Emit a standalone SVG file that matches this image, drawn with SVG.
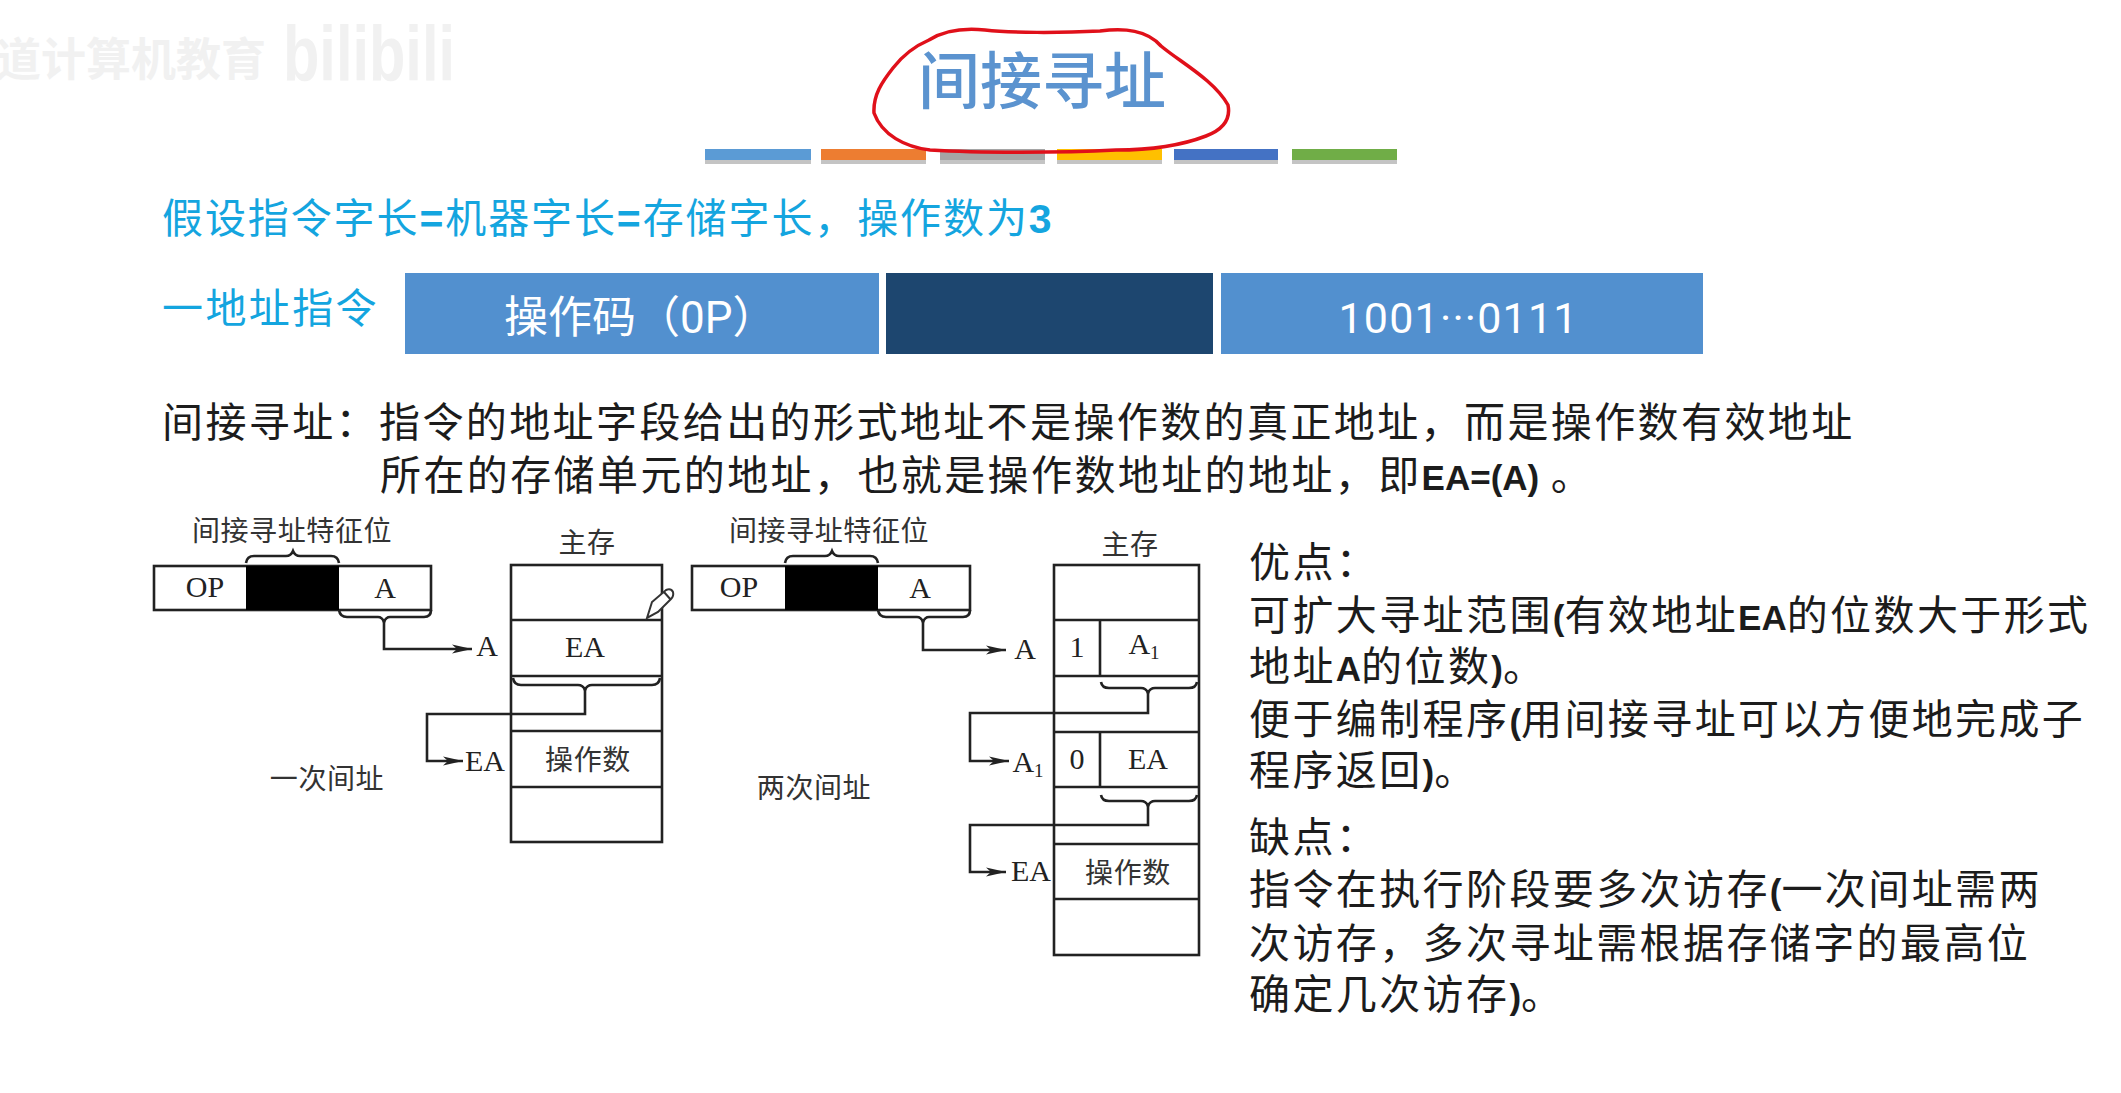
<svg xmlns="http://www.w3.org/2000/svg" width="2121" height="1093" viewBox="0 0 2121 1093">
<defs>
<marker id="arr" markerUnits="userSpaceOnUse" markerWidth="22" markerHeight="12" refX="20" refY="6" orient="auto"><path d="M0 1.5L20 6L0 10.5L5 6Z" fill="#222"/></marker>
</defs>
<style>
.cjk{font-family:"Noto Sans CJK SC","Noto Sans",sans-serif}
.blue{fill:#14a5df;font-size:41px;letter-spacing:2.4px}
.body{fill:#1c1c1c;font-size:41px;letter-spacing:2.4px}
.lat{font-family:"Liberation Sans",Arial,sans-serif;font-weight:700}
.ser{font-family:"Liberation Serif","Noto Sans CJK SC",serif;fill:#222;font-size:30px;text-anchor:middle}
.sc{font-family:"Noto Sans CJK SC",sans-serif;fill:#333;font-size:28px;text-anchor:middle;letter-spacing:.6px}
.box{fill:#fff;stroke:#222;stroke-width:2.6}
.ln{fill:none;stroke:#222;stroke-width:2.6}
.bar{stroke:none}
.shadow{fill:#c4c4c4}
.seg{fill:#5290cf}
.wm{fill:#f1f1f1;font-family:"Noto Sans CJK SC",sans-serif;font-weight:700}
</style>
<rect width="2121" height="1093" fill="#fff"/>
<g id="watermark">
<text class="wm" x="-4" y="76" font-size="45">道计算机教育</text>
<text class="wm" x="283" y="81" font-size="78" style="font-family:'Liberation Sans',sans-serif" textLength="172" lengthAdjust="spacingAndGlyphs">bilibili</text>
</g>
<g id="title">
<text x="1042" y="104" class="cjk" font-size="62" font-weight="500" fill="#5b93cf" text-anchor="middle">间接寻址</text>
</g>
<g id="color-bars">
<rect class="shadow" x="705" y="154" width="106" height="10"/><rect class="bar" x="705" y="149" width="106" height="11" fill="#5b9bd5"/>
<rect class="shadow" x="821" y="154" width="105" height="10"/><rect class="bar" x="821" y="149" width="105" height="11" fill="#ed7d31"/>
<rect class="shadow" x="940" y="154" width="105" height="10"/><rect class="bar" x="940" y="149" width="105" height="11" fill="#a5a5a5"/>
<rect class="shadow" x="1057" y="154" width="105" height="10"/><rect class="bar" x="1057" y="149" width="105" height="11" fill="#ffc000"/>
<rect class="shadow" x="1174" y="154" width="104" height="10"/><rect class="bar" x="1174" y="149" width="104" height="11" fill="#4472c4"/>
<rect class="shadow" x="1292" y="154" width="105" height="10"/><rect class="bar" x="1292" y="149" width="105" height="11" fill="#70ad47"/>
</g>
<g id="red-circle">
<path d="M929 40C945 30 965 28 985 30C1010 33 1060 33 1100 31C1125 28 1147 30 1161 46C1180 62 1214 80 1228 105C1231 120 1222 130 1206 136C1180 146 1150 150 1116 150C1060 153 980 153 930 150C905 147 882 135 874 113C873 95 882 82 893 68C903 55 915 46 929 40Z" fill="none" stroke="#e0101a" stroke-width="3.5"/>
</g>
<g id="assumption">
<text class="cjk blue" x="162" y="233" style="letter-spacing:1.9px">假设指令字长<tspan class="lat">=</tspan>机器字长<tspan class="lat">=</tspan>存储字长，操作数为<tspan class="lat">3</tspan></text>
</g>
<g id="instruction">
<text class="cjk blue" x="162" y="323">一地址指令</text>
<rect class="seg" x="405" y="273" width="474" height="81"/>
<rect x="886" y="273" width="327" height="81" fill="#1d466f"/>
<rect class="seg" x="1221" y="273" width="482" height="81"/>
<text class="cjk" x="504" y="333" font-size="44" fill="#fff">操作码（<tspan font-family="Roboto">0P</tspan>）</text>
<text x="1458" y="333" font-family="Roboto,sans-serif" font-size="43" fill="#fff" text-anchor="middle" textLength="239">1001···0111</text>
</g>
<g id="definition">
<text class="cjk body" x="162" y="437">间接寻址：指令的地址字段给出的形式地址不是操作数的真正地址，而是操作数有效地址</text>
<text class="cjk body" x="380" y="490">所在的存储单元的地址，也就是操作数地址的地址，即<tspan class="lat" font-size="35" letter-spacing="0">EA=(A)</tspan> 。</text>
</g>
<g id="fig1-instruction">
<text class="sc" x="292" y="541">间接寻址特征位</text>
<path class="ln" d="M246 563Q247 556 254 556H286Q291 556 293 551Q295 556 300 556H331Q338 556 339 563" stroke-width="2"/>
<rect class="box" x="154" y="566" width="277" height="44"/>
<rect x="246" y="566" width="93" height="44" fill="#000"/>
<text class="ser" x="205" y="597">OP</text>
<text class="ser" x="385" y="598">A</text>
</g>
<g id="fig1-memory">
<text class="sc" x="587" y="553">主存</text>
<rect class="box" x="511" y="565" width="151" height="277"/>
<path class="ln" d="M511 620H662M511 676H662M511 731H662M511 787H662"/>
<text class="ser" x="585" y="657">EA</text>
<text class="sc" x="588" y="770">操作数</text>
<text class="ser" x="487" y="656">A</text>
<text class="ser" x="485" y="771">EA</text>
</g>
<g id="fig1-caption"><text class="sc" x="327" y="789">一次间址</text></g>
<g id="pencil">
<path d="M647 618L652 602L666 590Q671 588 673 592Q674 596 671 599L658 612Z M664 592L671 600" fill="#fff" stroke="#333" stroke-width="2"/>
</g>
<g id="fig2-instruction">
<text class="sc" x="829" y="541">间接寻址特征位</text>
<path class="ln" d="M785 563Q786 556 793 556H825Q830 556 832 551Q834 556 839 556H870Q877 556 878 563" stroke-width="2"/>
<rect class="box" x="692" y="566" width="278" height="44"/>
<rect x="785" y="566" width="93" height="44" fill="#000"/>
<text class="ser" x="739" y="597">OP</text>
<text class="ser" x="920" y="598">A</text>
</g>
<g id="fig2-memory">
<text class="sc" x="1130" y="555">主存</text>
<rect class="box" x="1054" y="565" width="145" height="390"/>
<path class="ln" d="M1054 620H1199M1054 676H1199M1054 732H1199M1054 787H1199M1054 844H1199M1054 899H1199M1100 620V676M1100 732V787"/>
<text class="ser" x="1077" y="657">1</text>
<text class="ser" x="1144" y="654">A<tspan font-size="19" dy="5">1</tspan></text>
<text class="ser" x="1077" y="769">0</text>
<text class="ser" x="1148" y="769">EA</text>
<text class="sc" x="1128" y="883">操作数</text>
<text class="ser" x="1025" y="659">A</text>
<text class="ser" x="1028" y="772">A<tspan font-size="19" dy="5">1</tspan></text>
<text class="ser" x="1031" y="881">EA</text>
</g>
<g id="fig2-caption"><text class="sc" x="814" y="798">两次间址</text></g>
<g id="connectors">
<path class="ln" d="M339 610Q340 617 347 617H378Q382 617 384 622Q386 617 390 617H424Q431 617 431 610" stroke-width="2"/>
<path class="ln" d="M384 621V649H472" marker-end="url(#arr)"/>
<path class="ln" d="M513 678Q514 685 521 685H578Q583 685 585 690Q587 685 592 685H652Q659 685 660 678" stroke-width="2"/>
<path class="ln" d="M585 689V714H427V761H463" marker-end="url(#arr)"/>
<path class="ln" d="M878 610Q879 617 886 617H917Q921 617 923 622Q925 617 929 617H963Q970 617 970 610" stroke-width="2"/>
<path class="ln" d="M923 621V650H1006" marker-end="url(#arr)"/>
<path class="ln" d="M1101 682Q1102 688 1109 688H1141Q1146 688 1148 693Q1150 688 1155 688H1189Q1196 688 1197 682" stroke-width="2"/>
<path class="ln" d="M1148 692V713H970V761H1009" marker-end="url(#arr)"/>
<path class="ln" d="M1101 795Q1102 801 1109 801H1141Q1146 801 1148 806Q1150 801 1155 801H1189Q1196 801 1197 795" stroke-width="2"/>
<path class="ln" d="M1148 805V825H970V872H1006" marker-end="url(#arr)"/>
</g>
<g id="pros-cons">
<text class="cjk body" x="1249" y="577">优点：</text>
<text class="cjk body" x="1249" y="630">可扩大寻址范围<tspan class="lat" font-size="35" letter-spacing="0">(</tspan>有效地址<tspan class="lat" font-size="35" letter-spacing="0">EA</tspan>的位数大于形式</text>
<text class="cjk body" x="1249" y="681">地址<tspan class="lat" font-size="35" letter-spacing="0">A</tspan>的位数<tspan class="lat" font-size="35" letter-spacing="0">)</tspan>。</text>
<text class="cjk body" x="1249" y="734">便于编制程序<tspan class="lat" font-size="35" letter-spacing="0">(</tspan>用间接寻址可以方便地完成子</text>
<text class="cjk body" x="1249" y="785">程序返回<tspan class="lat" font-size="35" letter-spacing="0">)</tspan>。</text>
<text class="cjk body" x="1249" y="852">缺点：</text>
<text class="cjk body" x="1249" y="904">指令在执行阶段要多次访存<tspan class="lat" font-size="35" letter-spacing="0">(</tspan>一次间址需两</text>
<text class="cjk body" x="1249" y="958">次访存，多次寻址需根据存储字的最高位</text>
<text class="cjk body" x="1249" y="1009">确定几次访存<tspan class="lat" font-size="35" letter-spacing="0">)</tspan>。</text>
</g>
</svg>
